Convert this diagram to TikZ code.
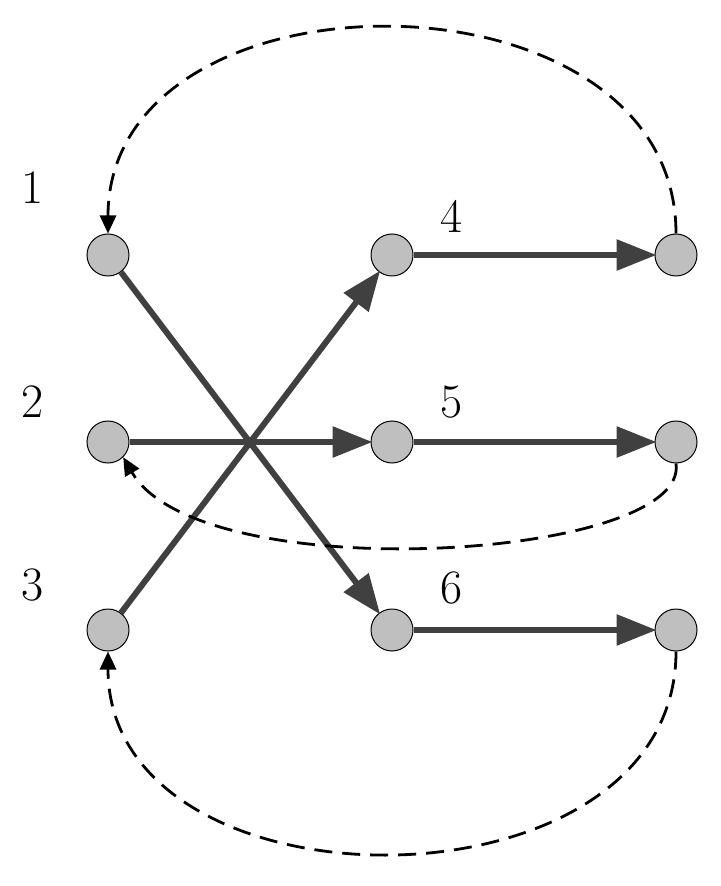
\documentclass[tikz,border=0pt]{standalone}
\usetikzlibrary{arrows.meta}
\begin{document}
\begin{tikzpicture}[x=0.5pt,y=-0.5pt,
  dot/.style={circle,draw=black,fill=gray!50,line width=0.5pt,minimum size=21pt,inner sep=0pt},
  edge/.style={draw=black!75,line width=3pt,-{Triangle[length=20pt,width=15pt]},shorten >=-1pt},
  back/.style={draw=black,line width=1.4pt,dash pattern=on 9pt off 5pt,-{Triangle[length=9pt,width=8pt]}},
  lab/.style={font=\fontsize{24}{28}\selectfont}]
\useasboundingbox (0,0) rectangle (720,886);
\node[dot] (a1) at (108,255) {};
\node[dot] (a2) at (108,442) {};
\node[dot] (a3) at (108,630) {};
\node[dot] (b4) at (392,255) {};
\node[dot] (b5) at (392,442) {};
\node[dot] (b6) at (392,630) {};
\node[dot] (c4) at (676,255) {};
\node[dot] (c5) at (676,442) {};
\node[dot] (c6) at (676,630) {};
\node[lab] (l1) at (33,188) {1};
\node[lab] (l2) at (33,402) {2};
\node[lab] (l3) at (33,585) {3};
\node[lab] (l4) at (452,216) {4};
\node[lab] (l5) at (452,402) {5};
\node[lab] (l6) at (452,588) {6};
\draw[edge] (a1) -- (b6);
\draw[edge] (a3) -- (b4);
\draw[edge] (a2) -- (b5);
\draw[edge] (b4) -- (c4);
\draw[edge] (b5) -- (c5);
\draw[edge] (b6) -- (c6);
\draw[back] (c4.north) .. controls (676,-40) and (108,-40) .. (a1.north);
\draw[back] (c5.south) .. controls (690,560) and (200,590) .. (a2.south east);
\draw[back] (c6.south) .. controls (676,920) and (108,920) .. (a3.south);
\end{tikzpicture}
\end{document}
